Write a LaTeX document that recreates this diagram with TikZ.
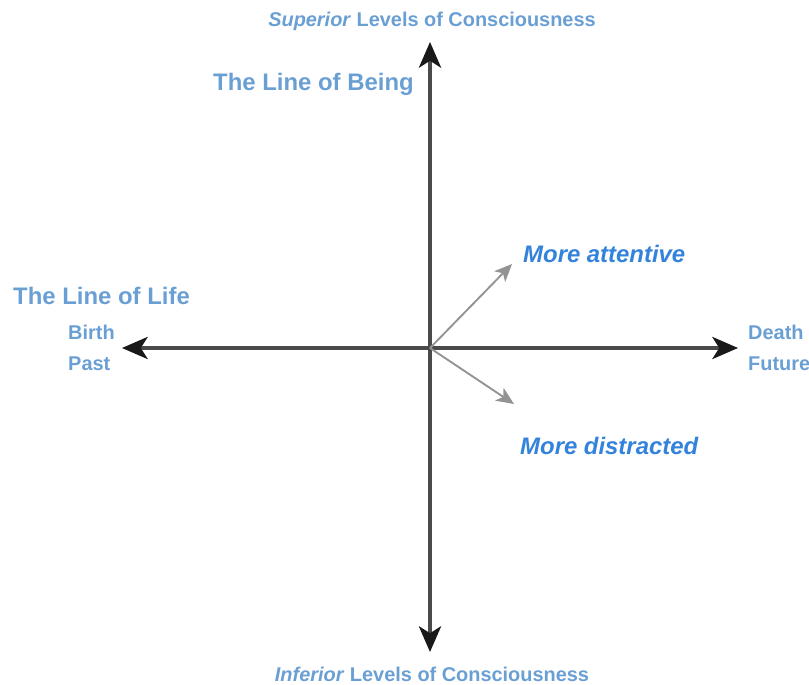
\documentclass[tikz,border=0pt]{standalone}
\usepackage{fontspec}
\setmainfont{Liberation Sans}
\usetikzlibrary{arrows.meta}
\definecolor{labelblue}{HTML}{6A9FD4}
\definecolor{brightblue}{HTML}{3382DC}
\definecolor{axisgray}{HTML}{4A4A4A}
\begin{document}
\begin{tikzpicture}[x=0.03cm,y=-0.03cm,
	axis/.style={draw=axisgray,line width=2.6pt,-{Stealth[length=22pt,width=19pt,inset=6pt,color=black!90]}},
	drift/.style={draw=gray!85,line width=1.6pt,-{Stealth[length=15pt,width=13pt,inset=4pt]}},
	label/.style={text=labelblue,font=\bfseries\fontsize{17}{20}\selectfont,inner sep=0pt},
	title/.style={text=labelblue,font=\bfseries\fontsize{20.4}{24}\selectfont,inner sep=0pt},
	way/.style={text=brightblue,font=\bfseries\itshape\fontsize{20.4}{24}\selectfont,inner sep=0pt}]
\useasboundingbox (0,0) rectangle (809,685);
\coordinate (O) at (430,348);
\coordinate (top) at (430,42);
\coordinate (bottom) at (430,652);
\coordinate (left) at (122,348);
\coordinate (right) at (738,348);
\coordinate (up) at (512,264);
\coordinate (down) at (514,404);
\draw[axis] (O) -- (top);
\draw[axis] (O) -- (bottom);
\draw[axis] (O) -- (left);
\draw[axis] (O) -- (right);
\draw[drift] (O) -- (up);
\draw[drift] (O) -- (down);
\node[label] (superior) at (432,21) {\textit{Superior} Levels of Consciousness};
\node[label] (inferior) at (432,674) {\textit{Inferior} Levels of Consciousness};
\node[title,anchor=west] (being) at (213,84) {The Line of Being};
\node[title,anchor=west] (life) at (13,296) {The Line of Life};
\node[label,anchor=west,align=left] (past) at (68,348) {Birth\\[7pt]Past};
\node[label,anchor=west,align=left] (future) at (748,348) {Death\\[7pt]Future};
\node[way,anchor=west] (attentive) at (523,254) {More attentive};
\node[way,anchor=west] (distracted) at (520,446) {More distracted};
\end{tikzpicture}
\end{document}
